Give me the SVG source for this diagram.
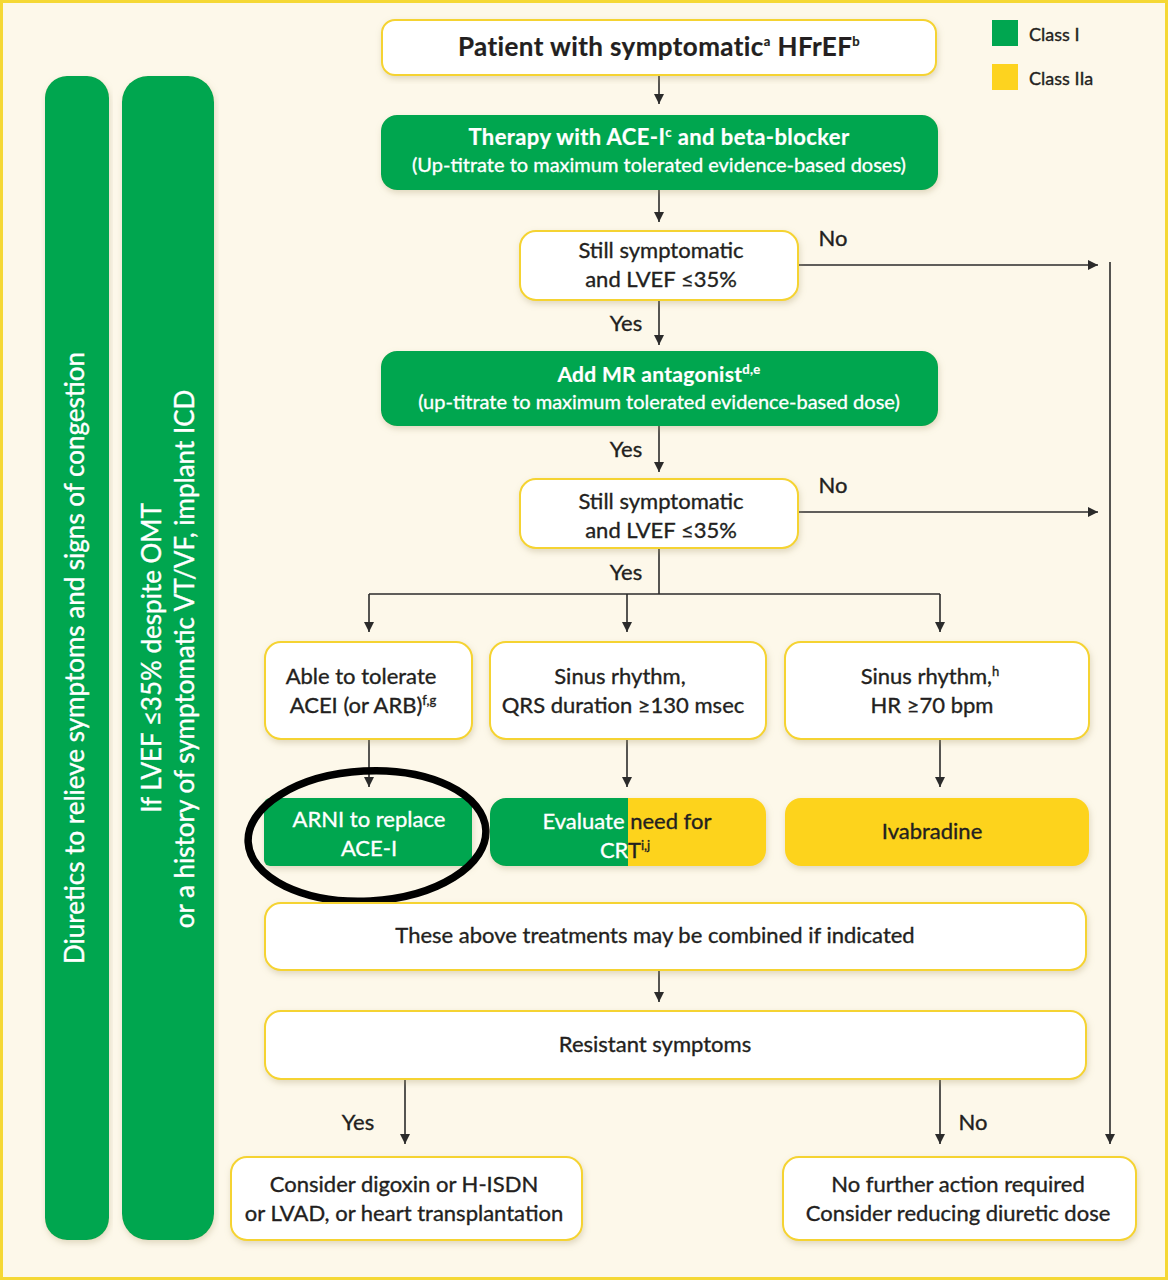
<svg xmlns="http://www.w3.org/2000/svg" width="1168" height="1280" viewBox="0 0 1168 1280">
<defs>
<style>
text{font-family:Lato,"Open Sans","DejaVu Sans",sans-serif;fill:#231f20;text-anchor:middle;stroke:#231f20;stroke-width:0.35px}
.w{fill:#fff;stroke:#fff}
tspan.w{fill:#fff;stroke:#fff}
.b{font-weight:bold;stroke-width:0.2px}
.t22{font-size:22px}
.box{fill:#fff;stroke:#f5d330;stroke-width:2;filter:url(#sh)}
.g{fill:#00a650;filter:url(#sh)}
.y{fill:#fdd31f;filter:url(#sh)}
.ln{stroke:#2b2b2b;stroke-width:1.6;fill:none}
.ar{marker-end:url(#ah)}
.lab{font-size:22px}
.bar{font-size:26px}
.sup{font-size:13px}
</style>
<marker id="ah" viewBox="0 0 10 10" refX="10" refY="5" markerWidth="10" markerHeight="10" markerUnits="userSpaceOnUse" orient="auto">
<path d="M0,0 L10,5 L0,10 z" fill="#2b2b2b"/>
</marker>
<filter id="sh" x="-5%" y="-10%" width="110%" height="125%">
<feDropShadow dx="1" dy="3" stdDeviation="3" flood-color="#a89a70" flood-opacity="0.35"/>
</filter>
<clipPath id="crtclip"><rect x="490" y="798" width="276" height="68" rx="16"/></clipPath>
</defs>
<rect x="1.5" y="1.5" width="1165" height="1277" fill="#fdf8ea" stroke="#f5d835" stroke-width="3"/>

<g id="legend">
<rect x="992" y="20" width="26" height="26" fill="#00a650"/>
<text x="1029" y="41" style="text-anchor:start;font-size:18px">Class I</text>
<rect x="992" y="64" width="26" height="26" fill="#fdd31f"/>
<text x="1029" y="85" style="text-anchor:start;font-size:18px">Class IIa</text>
</g>

<g id="bar-diuretics">
<rect x="45" y="76" width="64" height="1164" rx="22" class="g"/>
<text transform="translate(84,658) rotate(-90)" class="w bar">Diuretics to relieve symptoms and signs of congestion</text>
</g>
<g id="bar-icd">
<rect x="122" y="76" width="92" height="1164" rx="26" class="g"/>
<text transform="translate(161,658) rotate(-90)" class="w bar">If LVEF ≤35% despite OMT</text>
<text transform="translate(194,659) rotate(-90)" class="w bar">or a history of symptomatic VT/VF, implant ICD</text>
</g>

<g id="connectors">
<line x1="659" y1="75" x2="659" y2="104" class="ln ar"/>
<line x1="659" y1="190" x2="659" y2="222" class="ln ar"/>
<line x1="798" y1="265" x2="1098" y2="265" class="ln ar"/>
<line x1="1110" y1="262" x2="1110" y2="1144" class="ln ar"/>
<line x1="659" y1="300" x2="659" y2="345" class="ln ar"/>
<line x1="659" y1="426" x2="659" y2="472" class="ln ar"/>
<line x1="798" y1="512" x2="1098" y2="512" class="ln ar"/>
<line x1="659" y1="548" x2="659" y2="594" class="ln"/>
<line x1="369" y1="594" x2="940" y2="594" class="ln"/>
<line x1="369" y1="594" x2="369" y2="632" class="ln ar"/>
<line x1="627" y1="594" x2="627" y2="632" class="ln ar"/>
<line x1="940" y1="594" x2="940" y2="632" class="ln ar"/>
<line x1="369" y1="739" x2="369" y2="787" class="ln ar"/>
<line x1="627" y1="739" x2="627" y2="787" class="ln ar"/>
<line x1="940" y1="739" x2="940" y2="787" class="ln ar"/>
<line x1="659" y1="970" x2="659" y2="1002" class="ln ar"/>
<line x1="405" y1="1079" x2="405" y2="1144" class="ln ar"/>
<line x1="940" y1="1079" x2="940" y2="1144" class="ln ar"/>
<text x="833" y="246" class="lab">No</text>
<text x="626" y="331" class="lab">Yes</text>
<text x="626" y="457" class="lab">Yes</text>
<text x="833" y="493" class="lab">No</text>
<text x="626" y="580" class="lab">Yes</text>
<text x="358" y="1130" class="lab">Yes</text>
<text x="973" y="1130" class="lab">No</text>
</g>

<g id="patient">
<rect x="382" y="20" width="554" height="55" rx="13" class="box"/>
<text x="659" y="56" class="b" style="font-size:26px;letter-spacing:0.4px">Patient with symptomatic<tspan dy="-10" class="sup">a</tspan><tspan dy="10"> HFrEF</tspan><tspan dy="-10" class="sup">b</tspan></text>
</g>

<g id="therapy">
<rect x="381" y="115" width="557" height="75" rx="16" class="g"/>
<text x="659" y="145" class="w b" style="font-size:22px;letter-spacing:0.4px">Therapy with ACE-I<tspan dy="-8" class="sup">c</tspan><tspan dy="8"> and beta-blocker</tspan></text>
<text x="659" y="172" class="w" style="font-size:20px">(Up-titrate to maximum tolerated evidence-based doses)</text>
</g>

<g id="still1">
<rect x="520" y="231" width="278" height="69" rx="16" class="box"/>
<text x="661" y="258" class="t22">Still symptomatic</text>
<text x="661" y="287" class="t22">and LVEF ≤35%</text>
</g>

<g id="mra">
<rect x="381" y="351" width="557" height="75" rx="16" class="g"/>
<text x="659" y="382" class="w b" style="font-size:21px;letter-spacing:0.3px">Add MR antagonist<tspan dy="-8" class="sup">d,e</tspan></text>
<text x="659" y="409" class="w" style="font-size:20px">(up-titrate to maximum tolerated evidence-based dose)</text>
</g>

<g id="still2">
<rect x="520" y="479" width="278" height="69" rx="16" class="box"/>
<text x="661" y="509" class="t22">Still symptomatic</text>
<text x="661" y="538" class="t22">and LVEF ≤35%</text>
</g>

<g id="tolerate">
<rect x="265" y="642" width="207" height="97" rx="16" class="box"/>
<text x="361" y="684" class="t22">Able to tolerate</text>
<text x="363" y="713" class="t22">ACEI (or ARB)<tspan dy="-8" class="sup">f,g</tspan></text>
</g>

<g id="qrs">
<rect x="490" y="642" width="276" height="97" rx="16" class="box"/>
<text x="620" y="684" class="t22">Sinus rhythm,</text>
<text x="623" y="713" class="t22">QRS duration ≥130 msec</text>
</g>

<g id="hr">
<rect x="785" y="642" width="304" height="97" rx="16" class="box"/>
<text x="930" y="684" class="t22">Sinus rhythm,<tspan dy="-8" class="sup">h</tspan></text>
<text x="932" y="713" class="t22">HR ≥70 bpm</text>
</g>

<g id="arni">
<rect x="264" y="798" width="208" height="68" rx="6" class="g"/>
<text x="369" y="827" class="w t22">ARNI to replace</text>
<text x="369" y="856" class="w t22">ACE-I</text>
<ellipse cx="367" cy="836" rx="119" ry="65" fill="none" stroke="#000" stroke-width="7.5" transform="rotate(-3 367 836)"/>
</g>

<g id="crt">
<g filter="url(#sh)">
<g clip-path="url(#crtclip)">
<rect x="490" y="798" width="138" height="68" fill="#00a650"/>
<rect x="628" y="798" width="138" height="68" fill="#fdd31f"/>
</g>
</g>
<text x="627" y="829" class="t22"><tspan class="w">Evaluate </tspan><tspan>need for</tspan></text>
<text x="625" y="858" class="t22"><tspan class="w">CR</tspan><tspan>T</tspan><tspan dy="-8" class="sup">i,j</tspan></text>
</g>

<g id="ivabradine">
<rect x="785" y="798" width="304" height="68" rx="16" class="y"/>
<text x="932" y="839" class="t22">Ivabradine</text>
</g>

<g id="combined">
<rect x="265" y="903" width="821" height="67" rx="16" class="box"/>
<text x="655" y="943" class="t22">These above treatments may be combined if indicated</text>
</g>

<g id="resistant">
<rect x="265" y="1011" width="821" height="68" rx="16" class="box"/>
<text x="655" y="1052" class="t22">Resistant symptoms</text>
</g>

<g id="digoxin">
<rect x="231" y="1157" width="351" height="83" rx="16" class="box"/>
<text x="404" y="1192" class="t22">Consider digoxin or H-ISDN</text>
<text x="404" y="1221" class="t22">or LVAD, or heart transplantation</text>
</g>

<g id="nofurther">
<rect x="783" y="1157" width="353" height="83" rx="16" class="box"/>
<text x="958" y="1192" class="t22">No further action required</text>
<text x="958" y="1221" class="t22">Consider reducing diuretic dose</text>
</g>
</svg>
